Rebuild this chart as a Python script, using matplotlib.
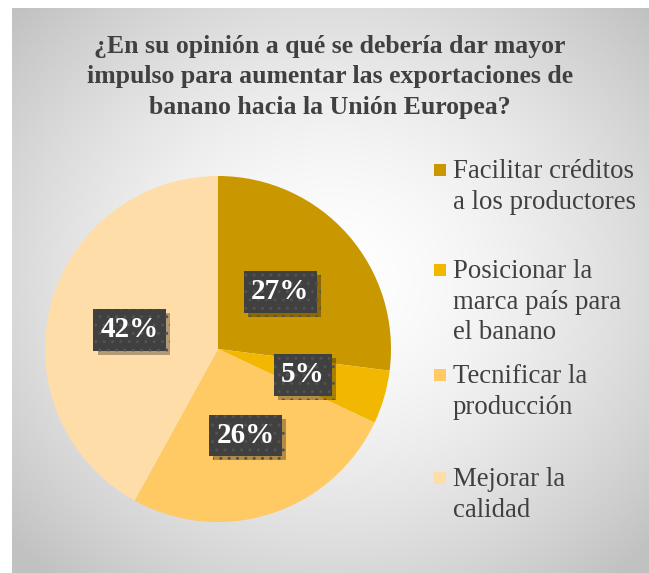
import matplotlib.pyplot as plt
import numpy as np
import matplotlib.patheffects as pe

# datos
etiquetas = ["Facilitar créditos\na los productores",
             "Posicionar la\nmarca país para\nel banano",
             "Tecnificar la\nproducción",
             "Mejorar la\ncalidad"]
valores = [27, 5, 26, 42]
colores = ['#C99700', '#F2B700', '#FFC964', '#FFDDA8']
titulo = "¿En su opinión a qué se debería dar mayor\nimpulso para aumentar las exportaciones de\nbanano hacia la Unión Europea?"

W, H = 649, 573
fig = plt.figure(figsize=(W / 100, H / 100), dpi=100)
fig.patch.set_facecolor('white')

# fondo con degradado radial
bg = fig.add_axes([12 / W, 0, 1 - 12 / W, 1 - 8 / H])
yy, xx = np.mgrid[0:565, 0:637]
d = np.sqrt(((xx - 320) / 420.0) ** 2 + ((yy - 270) / 380.0) ** 2)
g = np.clip(1.0 - 0.23 * d ** 1.6, 0.76, 1.0)
bg.imshow(np.dstack([g, g, g]), aspect='auto', interpolation='bilinear')
bg.axis('off')

fig.text(330 / W, 1 - 77 / H, titulo, ha='center', va='center',
         family='Liberation Serif', fontweight='bold', fontsize=18.5,
         color='#404040', linespacing=1.4)

# pastel
cx, cy, r = 218, 349, 173
ax = fig.add_axes([(cx - r) / W, (H - cy - r) / H, 2 * r / W, 2 * r / H])
ax.pie(valores, colors=colores, startangle=90, counterclock=False,
       radius=1, wedgeprops=dict(linewidth=0))
ax.set_xlim(-1, 1)
ax.set_ylim(-1, 1)
ax.axis('off')

pos = [(0.36, 0.33), (0.49, -0.15), (0.16, -0.50), (-0.51, 0.11)]
for v, (px, py) in zip(valores, pos):
    t = ax.text(px, py, f"{v}%", ha='center', va='center',
                family='Liberation Serif', fontweight='bold', fontsize=21,
                color='white',
                bbox=dict(boxstyle='square,pad=0.25', fc='#404040', ec='#525252',
                          lw=0, hatch='..'))
    t.get_bbox_patch().set_path_effects([
        pe.SimplePatchShadow(offset=(3, -3), shadow_rgbFace='black', alpha=0.3),
        pe.Normal()])

# leyenda
ley_y = [170, 270, 375, 478]
for lab, c, y0 in zip(etiquetas, colores, ley_y):
    fig.patches.append(plt.Rectangle((434 / W, 1 - (y0 + 6) / H), 12 / W, 12 / H,
                                     transform=fig.transFigure, fc=c, ec='none'))
    fig.text(453 / W, 1 - (y0 - 11) / H, lab, ha='left', va='top',
             family='Liberation Serif', fontsize=19.3, color='#404040',
             linespacing=1.3)

fig.savefig('out.png', dpi=100)
